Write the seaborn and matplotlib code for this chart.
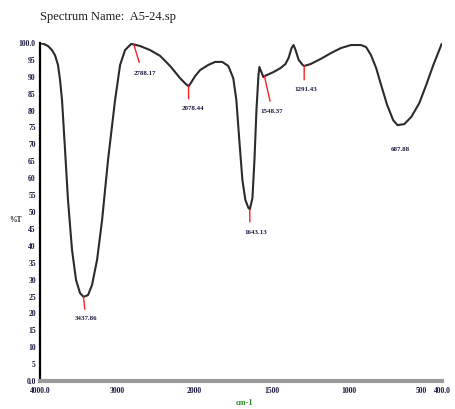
import numpy as np
import pandas as pd
import matplotlib
matplotlib.use("Agg")
import matplotlib.pyplot as plt
import seaborn as sns

# ---- data ----
wavenumber = [4000, 3948, 3896, 3845, 3806, 3767, 3741, 3715, 3676, 3638, 3586, 3534,
              3482, 3437, 3379, 3327, 3262, 3197, 3120, 3029, 2964, 2900, 2822, 2788,
              2705, 2576, 2447, 2317, 2188, 2120, 2078, 2045, 1997, 1964, 1912, 1867,
              1821, 1782, 1750, 1730, 1711, 1691, 1672, 1652, 1643, 1626, 1613, 1600,
              1587, 1581, 1568, 1555, 1548, 1529, 1490, 1444, 1412, 1392, 1373, 1360,
              1347, 1327, 1301, 1291, 1249, 1184, 1119, 1054, 989, 924, 891, 859, 826,
              794, 755, 716, 688, 644, 599, 547, 502, 456, 423, 400]
transmittance = [100.0, 99.7, 99.1, 97.9, 96.4, 93.5, 89.1, 83.1, 68.3, 53.6, 38.8, 29.9,
                 26.0, 24.9, 25.4, 28.4, 35.8, 47.6, 65.4, 83.1, 93.5, 97.9, 99.7, 99.6,
                 99.1, 97.9, 96.2, 93.2, 89.6, 88.0, 87.2, 88.3, 90.2, 92.0, 93.5, 94.4,
                 94.4, 93.2, 89.6, 83.1, 71.3, 59.5, 53.6, 51.2, 50.8, 54.1, 65.4, 80.2,
                 90.5, 92.9, 91.4, 89.9, 90.2, 90.6, 91.4, 92.6, 93.8, 95.6, 98.5, 99.4,
                 97.9, 95.0, 93.5, 93.2, 93.8, 95.3, 97.0, 98.5, 99.4, 99.4, 98.8, 96.4,
                 92.6, 87.6, 81.7, 77.2, 75.7, 76.0, 78.1, 82.2, 87.6, 93.5, 97.3, 100.0]

peak_wn = [3437.86, 2788.17, 2078.44, 1643.13, 1548.37, 1291.43, 687.88]
peak_labels = ["3437.86", "2788.17", "2078.44", "1643.13", "1548.37", "1291.43", "687.88"]
peak_t = [24.9, 99.6, 87.2, 50.8, 90.2, 93.2, 75.7]

x_ticks = [4000, 3000, 2000, 1500, 1000, 500, 400]
x_ticklabels = ["4000.0", "3000", "2000", "1500", "1000", "500", "400.0"]
y_ticks = [100, 95, 90, 85, 80, 75, 70, 65, 60, 55, 50, 45, 40, 35, 30, 25, 20, 15, 10, 5, 0]
y_ticklabels = ["100.0"] + [str(v) for v in y_ticks[1:-1]] + ["0.0"]

df = pd.DataFrame({"wn": wavenumber, "T": transmittance})

sns.set_style("white")
plt.rcParams["font.family"] = ["Liberation Serif", "DejaVu Serif"]

fig = plt.figure(figsize=(4.55, 4.09), dpi=100)
ax = fig.add_axes([40 / 455, 1 - 381 / 409, 402 / 455, 338 / 409])


def fwd(w):
    w = np.asarray(w, dtype=float)
    return np.where(w >= 2000, (w - 2000) / 1000.0, (w - 2000) / 500.0)


def inv(u):
    u = np.asarray(u, dtype=float)
    return np.where(u >= 0, 2000 + 1000.0 * u, 2000 + 500.0 * u)


ax.set_xscale("function", functions=(fwd, inv))

sns.lineplot(data=df, x="wn", y="T", ax=ax, color="#2b2b2b", linewidth=1.5,
             estimator=None, sort=True)

ax.set_xlim(4000, 400)
ax.set_ylim(0, 100)

# peak annotations: (dx, dy) offsets in points for the tick end / label
offsets = {
    "3437.86": ((1, -9), (2, -14)),
    "2788.17": ((4, -13), (8, -19)),
    "2078.44": ((0, -9), (3, -14)),
    "1643.13": ((0, -9), (4, -15)),
    "1548.37": ((4, -18), (5, -24)),
    "1291.43": ((0, -10), (1, -15)),
    "687.88": ((0, 0), (2, -16)),
}
for w, t, lab in zip(peak_wn, peak_t, peak_labels):
    (tdx, tdy), (ldx, ldy) = offsets[lab]
    if (tdx, tdy) != (0, 0):
        ax.annotate("", xy=(w, t), xytext=(tdx, tdy), textcoords="offset points",
                    arrowprops=dict(arrowstyle="-", color="#ff2020", lw=1.0,
                                    shrinkA=0, shrinkB=0))
    ax.annotate(lab, xy=(w, t), xytext=(ldx, ldy), textcoords="offset points",
                ha="center", va="top", fontsize=5, color="#1a1a40", fontweight="bold")

ax.set_xticks(x_ticks)
ax.set_xticklabels(x_ticklabels)
ax.set_yticks(y_ticks)
ax.set_yticklabels(y_ticklabels)
ax.tick_params(axis="both", labelsize=5.5, colors="#1a1a40", pad=1)
ax.tick_params(axis="y", length=2, width=0.8, direction="out", color="black")
ax.tick_params(axis="x", length=4, width=1.0, direction="inout", color="black", pad=2)
for lbl in ax.get_xticklabels() + ax.get_yticklabels():
    lbl.set_fontweight("bold")
ax.get_xticklabels()[-2].set_ha("right")
ax.get_xticklabels()[-1].set_ha("center")

for s in ["top", "right"]:
    ax.spines[s].set_visible(False)
ax.spines["left"].set_color("black")
ax.spines["left"].set_linewidth(1.6)
ax.spines["bottom"].set_color("#9a9a9a")
ax.spines["bottom"].set_linewidth(3.0)

ax.set_xlabel("")
ax.set_ylabel("%T", rotation=0, fontsize=5.5, fontweight="bold", labelpad=0,
              ha="right", va="center")
ax.yaxis.set_label_coords(-0.045, 0.475)

fig.text(245 / 455, 1 - 403 / 409, "cm-1", color="#2e8b2e", fontsize=6,
         fontweight="bold", ha="center", va="center")
fig.text(40 / 455, 1 - 17 / 409, "Spectrum Name:  A5-24.sp", fontsize=9,
         ha="left", va="center", color="#1a1a1a")

fig.savefig("out.png", dpi=100)
